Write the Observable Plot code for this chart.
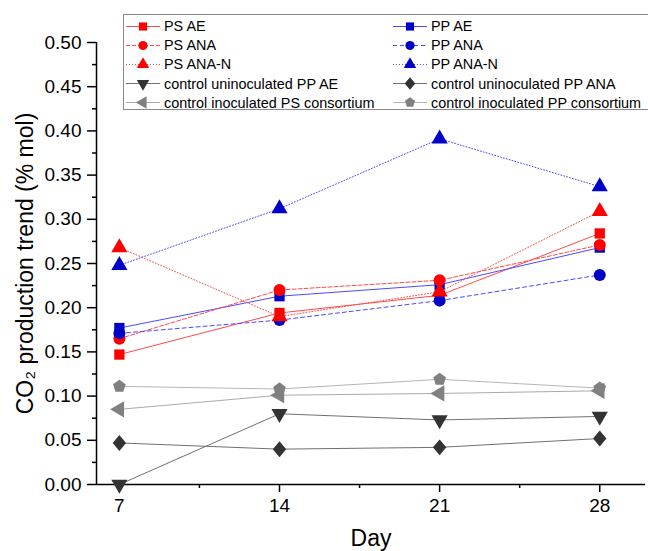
<!DOCTYPE html>
<html>
<head>
<meta charset="utf-8">
<script src="https://cdn.jsdelivr.net/npm/d3@7"></script>
<script src="https://cdn.jsdelivr.net/npm/@observablehq/plot@0.6"></script>
<style>
  html, body { margin: 0; padding: 0; background: #fff; }
  #wrap { position: relative; width: 648px; height: 551px; overflow: hidden; font-family: "Liberation Sans", Arial, sans-serif; }
  #legend { position: absolute; left: 123px; top: 14px; width: 560px; height: 96px; border: 1px solid #8a8a8a; background: #fff; box-sizing: border-box; }
  .item { position: absolute; height: 19px; display: flex; align-items: center; font-size: 14.4px; color: #000; white-space: nowrap; }
  .item svg { flex: none; margin-right: 3px; }
</style>
</head>
<body>
<div id="wrap"><div id="legend"></div></div>
<script>
// ---- data ----
const days = [7, 14, 21, 28];
const dayMinor = [10.5, 17.5, 24.5];
const yTicks = [0, 0.05, 0.10, 0.15, 0.20, 0.25, 0.30, 0.35, 0.40, 0.45, 0.50];
const yMinor = [0.025, 0.075, 0.125, 0.175, 0.225, 0.275, 0.325, 0.375, 0.425, 0.475];

const seriesNames = [
  "PS AE", "PP AE", "PS ANA", "PP ANA", "PS ANA-N", "PP ANA-N",
  "control uninoculated PP AE", "control uninoculated PP ANA",
  "control inoculated PS consortium", "control inoculated PP consortium"
];
const psAE   = [0.147, 0.194, 0.214, 0.284];
const ppAE   = [0.177, 0.213, 0.226, 0.268];
const psANA  = [0.165, 0.220, 0.231, 0.271];
const ppANA  = [0.171, 0.186, 0.208, 0.237];
const psANAN = [0.268, 0.190, 0.218, 0.309];
const ppANAN = [0.248, 0.312, 0.391, 0.337];
const ctrlUnPPAE  = [0.000, 0.080, 0.073, 0.077];
const ctrlUnPPANA = [0.047, 0.040, 0.042, 0.052];
const ctrlInPS    = [0.085, 0.101, 0.103, 0.106];
const ctrlInPP    = [0.111, 0.108, 0.119, 0.109];
const seriesValues = [psAE, ppAE, psANA, ppANA, psANAN, ppANAN, ctrlUnPPAE, ctrlUnPPANA, ctrlInPS, ctrlInPP];

// ---- custom symbols ----
const S3 = Math.sqrt(3);
const triDown = { draw(c, size) { const y = -Math.sqrt(size / (S3 * 3)); c.moveTo(0, -2 * y); c.lineTo(-S3 * y, y); c.lineTo(S3 * y, y); c.closePath(); } };
const triLeft = { draw(c, size) { const y = -Math.sqrt(size / (S3 * 3)); c.moveTo(2 * y, 0); c.lineTo(-y, -S3 * y); c.lineTo(-y, S3 * y); c.closePath(); } };
const triUp = { draw(c, size) { const y = -Math.sqrt(size / (S3 * 3)); c.moveTo(0, 2 * y); c.lineTo(-S3 * y, -y); c.lineTo(S3 * y, -y); c.closePath(); } };
const pentagon = { draw(c, size) { const R = Math.sqrt(size / (2.5 * Math.sin(2 * Math.PI / 5))); for (let k = 0; k < 5; k++) { const a = -Math.PI / 2 + k * 2 * Math.PI / 5; const px = R * Math.cos(a), py = R * Math.sin(a); k ? c.lineTo(px, py) : c.moveTo(px, py); } c.closePath(); } };
const diamond = { draw(c, size) { const a = Math.sqrt(size / 2); c.moveTo(0, -a * 1.1); c.lineTo(a * 0.92, 0); c.lineTo(0, a * 1.1); c.lineTo(-a * 0.92, 0); c.closePath(); } };
const square = { draw(c, size) { const h = Math.sqrt(size) / 2; c.rect(-h, -h, 2 * h, 2 * h); } };
const circle = { draw(c, size) { const r = Math.sqrt(size / Math.PI); c.moveTo(r, 0); c.arc(0, 0, r, 0, 2 * Math.PI); } };

const RED = "#ff0000", RED_L = "#ff4a4a", BLUE = "#0000c8", BLUE_L = "#4a4aff";
const styles = [
  { mark: RED,  line: RED_L,  dash: null,  sym: square,  r: 5.8 },
  { mark: BLUE, line: BLUE_L, dash: null,  sym: square,  r: 5.8 },
  { mark: RED,  line: RED_L,  dash: "4,2", sym: circle,  r: 6.0 },
  { mark: BLUE, line: BLUE_L, dash: "4,3", sym: circle,  r: 6.0 },
  { mark: RED,  line: RED_L,  dash: "1,2", sym: triUp,   r: 6.0 },
  { mark: BLUE, line: BLUE_L, dash: "1,2", sym: triUp,   r: 6.0 },
  { mark: "#333333", line: "#707070", dash: null, sym: triDown,  r: 6.0 },
  { mark: "#333333", line: "#707070", dash: null, sym: diamond,  r: 5.8 },
  { mark: "#808080", line: "#aaaaaa", dash: null, sym: triLeft,  r: 6.0 },
  { mark: "#808080", line: "#b5b5b5", dash: null, sym: pentagon, r: 5.8 }
];

const marks = [];
seriesNames.forEach((name, i) => {
  const rows = days.map((d, j) => ({ day: d, value: seriesValues[i][j], series: name }));
  const st = styles[i];
  marks.push(Plot.line(rows, { x: "day", y: "value", stroke: st.line, strokeWidth: 1, strokeDasharray: st.dash }));
  marks.push(Plot.dot(rows, { x: "day", y: "value", fill: st.mark, stroke: "none", symbol: st.sym, r: st.r }));
});

const chart = Plot.plot({
  width: 648,
  height: 551,
  marginLeft: 96,
  marginRight: 3,
  marginTop: 42,
  marginBottom: 67,
  style: { fontFamily: "Liberation Sans, Arial, sans-serif", background: "#fff", color: "#000" },
  x: { domain: [6, 30] },
  y: { domain: [0, 0.5] },
  marks: [
    Plot.axisY({ ticks: yTicks, tickSize: 9, tickPadding: 6, tickFormat: d3.format(".2f"), fontSize: 19, strokeWidth: 1.5, label: null }),
    Plot.axisY({ ticks: yMinor, tickSize: 4, tickFormat: () => "", strokeWidth: 1.5, label: null }),
    Plot.axisX({ ticks: days, tickSize: 8, tickPadding: 6, fontSize: 19, strokeWidth: 1.5, label: null }),
    Plot.axisX({ ticks: dayMinor, tickSize: 4, tickFormat: () => "", strokeWidth: 1.5, label: null }),
    Plot.ruleX([6], { y1: 0, y2: 0.5, stroke: "#000", strokeWidth: 1.5 }),
    Plot.ruleY([0], { stroke: "#000", strokeWidth: 1.5 }),
    ...marks,
    Plot.text(["CO₂ production trend (% mol)"], { frameAnchor: "left", textAnchor: "middle", rotate: -90, dx: -71, fontSize: 23, lineAnchor: "middle", fill: "#000" }),
    Plot.text(["Day"], { frameAnchor: "bottom", textAnchor: "middle", dy: 54, fontSize: 23, lineAnchor: "middle", fill: "#000" })
  ]
});
const wrap = document.getElementById("wrap");
wrap.insertBefore(chart, wrap.firstChild);

// ---- legend (HTML overlay, ordered as in the reference) ----
const legend = document.getElementById("legend");
const legendOrder = [0, 2, 4, 6, 8, 1, 3, 5, 7, 9];
legendOrder.forEach((si, k) => {
  const col = k < 5 ? 0 : 1, row = k % 5;
  const st = styles[si];
  const div = document.createElement("div");
  div.className = "item";
  div.style.left = (col ? 268 : 1) + "px";
  div.style.top = (1.5 + row * 19.2) + "px";
  const svg = d3.create("svg").attr("width", 36).attr("height", 19);
  svg.append("line").attr("x1", 1).attr("x2", 35).attr("y1", 9.5).attr("y2", 9.5)
    .attr("stroke", st.line).attr("stroke-width", 1).attr("stroke-dasharray", st.dash);
  svg.append("path").attr("transform", "translate(18,9.5)")
    .attr("d", d3.symbol(st.sym, Math.PI * 4.6 * 4.6)()).attr("fill", st.mark);
  div.appendChild(svg.node());
  const span = document.createElement("span");
  span.textContent = seriesNames[si];
  div.appendChild(span);
  legend.appendChild(div);
});
</script>
</body>
</html>
